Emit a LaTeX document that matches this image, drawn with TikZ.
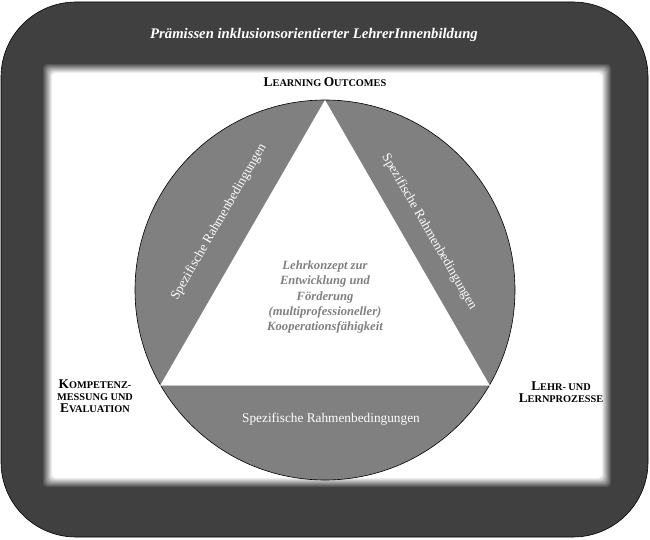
\documentclass[tikz,border=0pt]{standalone}
\usepackage{fontspec}
\setmainfont{Liberation Serif}
\definecolor{bg}{HTML}{404040}
\definecolor{ring}{HTML}{808080}
\definecolor{basegray}{HTML}{C8C8C8}
\newcommand\myfsc[2]{{\fontsize{13.4}{15.5}\selectfont #1}{\fontsize{10.3}{15.5}\selectfont #2}}
\begin{document}
\begin{tikzpicture}[x=1pt,y=-1pt,
  sidetext/.style={text=white, font=\fontsize{13.3}{15}\selectfont, inner sep=0pt},
  cornerlabel/.style={font=\bfseries, align=center, inner sep=0pt, text=black},
  centertext/.style={text=ring, font=\bfseries\itshape\fontsize{12.6}{15.2}\selectfont, align=center, inner sep=0pt}]
\useasboundingbox (0,0) rectangle (650,540);
% outer frame
\draw[fill=bg, draw=black, line width=0.6pt, rounded corners=75pt] (1,2) rectangle (648,537);
% blurred white panel
\foreach \i in {0,...,10}{
  \pgfmathtruncatemacro\p{\i*10}
  \fill[white!\p!bg, rounded corners=4pt] (42+\i,63+\i) rectangle (612-\i,488-\i);
}
% circle and triangle
\draw[fill=ring, draw=black, line width=0.6pt] (325,290) circle[radius=190pt];
\fill[white] (325,100) -- (160.45,385) -- (489.55,385) -- cycle;
\draw[basegray, line width=1pt] (160.45,385) -- (489.55,385);
% texts
\node[text=white, font=\bfseries\itshape\fontsize{14.7}{17}\selectfont, inner sep=0pt] (title) at (314,35) {Prämissen inklusionsorientierter LehrerInnenbildung};
\node[cornerlabel] (lo) at (325,82) {\myfsc{L}{EARNING} \myfsc{O}{UTCOMES}};
\node[cornerlabel] (kompetenz) at (95,396) {\myfsc{K}{OMPETENZ-}\\\myfsc{}{MESSUNG UND}\\\myfsc{E}{VALUATION}};
\node[cornerlabel] (lehr) at (561,392) {\myfsc{L}{EHR-} \myfsc{}{UND}\\\myfsc{L}{ERNPROZESSE}};
\node[sidetext, rotate=60] (leftside) at (219,222) {Spezifische Rahmenbedingungen};
\node[sidetext, rotate=-60] (rightside) at (429,232) {Spezifische Rahmenbedingungen};
\node[sidetext] (bottomside) at (331,419) {Spezifische Rahmenbedingungen};
\node[centertext] (center) at (325,297) {Lehrkonzept zur\\Entwicklung und\\Förderung\\(multiprofessioneller)\\Kooperationsfähigkeit};
\end{tikzpicture}
\end{document}
